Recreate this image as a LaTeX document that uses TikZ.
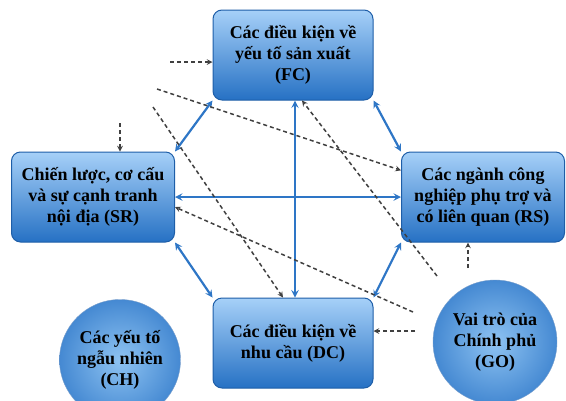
\documentclass[tikz,border=0pt]{standalone}
\usepackage{fontspec}
\setmainfont{Liberation Serif}
\definecolor{boxtop}{HTML}{A6D0F8}
\definecolor{boxbot}{HTML}{2671C4}
\definecolor{boxline}{HTML}{1E5EA8}
\definecolor{arrowblue}{HTML}{2E76C6}
\definecolor{ballin}{HTML}{8EC3F2}
\definecolor{ballout}{HTML}{4589D2}
\begin{document}
\begin{tikzpicture}[x=1pt,y=-1pt,line join=round,>=stealth,
 font=\fontsize{18}{21}\selectfont\bfseries,
 box/.style={draw=boxline,line width=1pt,rounded corners=9pt,top color=boxtop,bottom color=boxbot,minimum width=160pt,minimum height=90pt,align=center,inner sep=2pt},
 ball/.style={circle,draw=boxline!60,inner color=ballin,outer color=ballout,align=center,inner sep=0pt},
 link/.style={<->,draw=arrowblue,line width=2.2pt},
 infl/.style={->,line width=1.5pt,dash pattern=on 4pt off 3pt,black!75}]
 \useasboundingbox (0,0) rectangle (566,400);
 \node[box] (fc) at (293,55) {Các điều kiện về\\yếu tố sản xuất\\(FC)};
 \node[box,minimum width=163pt] (sr) at (93,197) {Chiến lược, cơ cấu\\và sự cạnh tranh\\nội địa (SR)};
 \node[box,minimum width=163pt] (rs) at (483,197) {Các ngành công\\nghiệp phụ trợ và\\có liên quan (RS)};
 \node[box] (dc) at (293,343) {Các điều kiện về\\nhu cầu (DC)};
 \node[ball,minimum size=121pt] (ch) at (120,360) {Các yếu tố\\ngẫu nhiên\\(CH)};
 \node[ball,minimum size=124pt] (go) at (495,342) {Vai trò của\\Chính phủ\\(GO)};
 \draw[link] (fc.south west) -- (sr.north east);
 \draw[link] (fc.south east) -- (rs.north west);
 \draw[link] (sr.south east) -- (dc.north west);
 \draw[link] (rs.south west) -- (dc.north east);
 \draw[link] ([xshift=2pt]fc.south) -- ([xshift=2pt]dc.north);
 \draw[link] (sr) -- (rs);
 \coordinate (fcsrc) at (170,62);
 \coordinate (srsrc) at (120,123);
 \coordinate (rssrc) at (468,268);
 \coordinate (dcsrc) at (415,331);
 \coordinate (srca) at (157,89);
 \coordinate (srcb) at (153,107);
 \coordinate (srcc) at (437,276);
 \coordinate (srcd) at (413,312);
 \draw[infl] (fcsrc) -- (fcsrc -| fc.west);
 \draw[infl] (srsrc) -- (srsrc |- sr.north);
 \draw[infl] (rssrc) -- (rssrc |- rs.south);
 \draw[infl] (dcsrc) -- (dcsrc -| dc.east);
 \draw[infl] (srca) -- (rs.162);
 \draw[infl] (srcb) -- ([xshift=-10pt]dc.north);
 \draw[infl] (srcc) -- ([xshift=9pt]fc.south);
 \draw[infl] (srcd) -- (sr.-7);
\end{tikzpicture}
\end{document}
